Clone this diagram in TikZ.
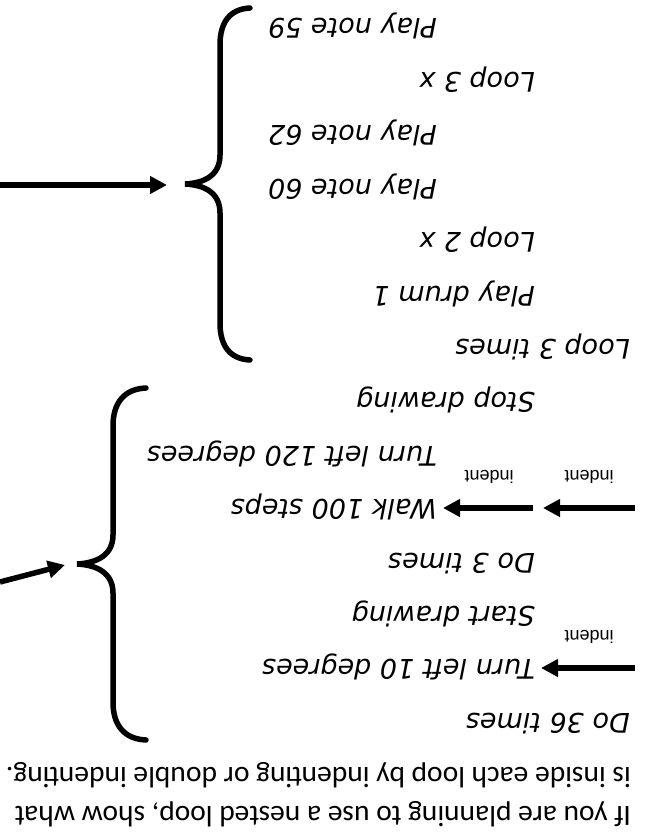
\documentclass[tikz,border=0pt]{standalone}
\usepackage{fontspec}
\setmainfont{Carlito}
\newfontfamily\codefont{DejaVu Sans}
\newfontfamily\labelfont{Liberation Sans}
\usetikzlibrary{arrows.meta, calc}
\tikzset{
  code/.style={font=\codefont\itshape\fontsize{27}{30}\selectfont, rotate=180, anchor=base west, inner sep=0pt},
  note/.style={font=\fontsize{29.5}{32}\selectfont, rotate=180, anchor=base west, inner sep=0pt},
  tag/.style={font=\labelfont\fontsize{18}{20}\selectfont, rotate=180, anchor=base, inner sep=0pt},
  arrow/.style={-{Triangle[length=17pt,width=17pt]}, line width=5.5pt},
  curly/.style={line width=5.5pt, line cap=round}
}
\begin{document}
\begin{tikzpicture}[x=1pt, y=-1pt]
  \useasboundingbox (0,0) rectangle (651,837);
  % explanation, printed upside down
  \node (noteA) [note] at (631,767) {is inside each loop by indenting or double indenting.};
  \node (noteB) [note] at (631,806) {If you are planning to use a nested loop, show what};
  % drawing program
  \node (do36)   [code] at (630,713.2) {Do 36 times};
  \node (turn10) [code] at (535,659.8) {Turn left 10 degrees};
  \node (start)  [code] at (535,606.4) {Start drawing};
  \node (do3)    [code] at (535,553.0) {Do 3 times};
  \node (walk)   [code] at (437,499.6) {Walk 100 steps};
  \node (turn120)[code] at (437,446.2) {Turn left 120 degrees};
  \node (stop)   [code] at (535,392.8) {Stop drawing};
  % music program
  \node (loop3t) [code] at (630,339.4) {Loop 3 times};
  \node (drum)   [code] at (535,286.0) {Play drum 1};
  \node (loop2)  [code] at (535,232.6) {Loop 2 x};
  \node (note60) [code] at (437,179.2) {Play note 60};
  \node (note62) [code] at (437,125.8) {Play note 62};
  \node (loop3x) [code] at (535,72.4)  {Loop 3 x};
  \node (note59) [code] at (437,19.0)  {Play note 59};
  % indent markers
  \coordinate (inA) at (635,668);
  \coordinate (inB) at (541,668);
  \draw [arrow] (inA) -- (inB);
  \node (tagA) [tag] at (589,630) {indent};
  \coordinate (inC) at (635,508);
  \coordinate (inD) at (543,508);
  \coordinate (inE) at (533,508);
  \coordinate (inF) at (443,508);
  \draw [arrow] (inC) -- (inD);
  \draw [arrow] (inE) -- (inF);
  \node (tagB) [tag] at (589,470) {indent};
  \node (tagC) [tag] at (489,470) {indent};
  % braces
  \draw [curly] (250,8) .. controls (230,9) and (220,22) .. (220,45) -- (220,155)
    .. controls (220,175) and (205,183) .. (185,184) .. controls (205,185) and (220,193) .. (220,213)
    -- (220,323) .. controls (220,346) and (230,359) .. (250,360);
  \draw [curly] (146,388) .. controls (124,389) and (113,403) .. (113,426) -- (113,535)
    .. controls (113,555) and (97,563) .. (77,564) .. controls (97,565) and (113,573) .. (113,593)
    -- (113,702) .. controls (113,725) and (124,739) .. (146,740);
  \coordinate (armA) at (0,185);
  \coordinate (tipA) at (167,185);
  \coordinate (armB) at (0,582);
  \coordinate (tipB) at (65,565);
  \draw [arrow] (armA) -- (tipA);
  \draw [arrow] (armB) -- (tipB);
\end{tikzpicture}
\end{document}
